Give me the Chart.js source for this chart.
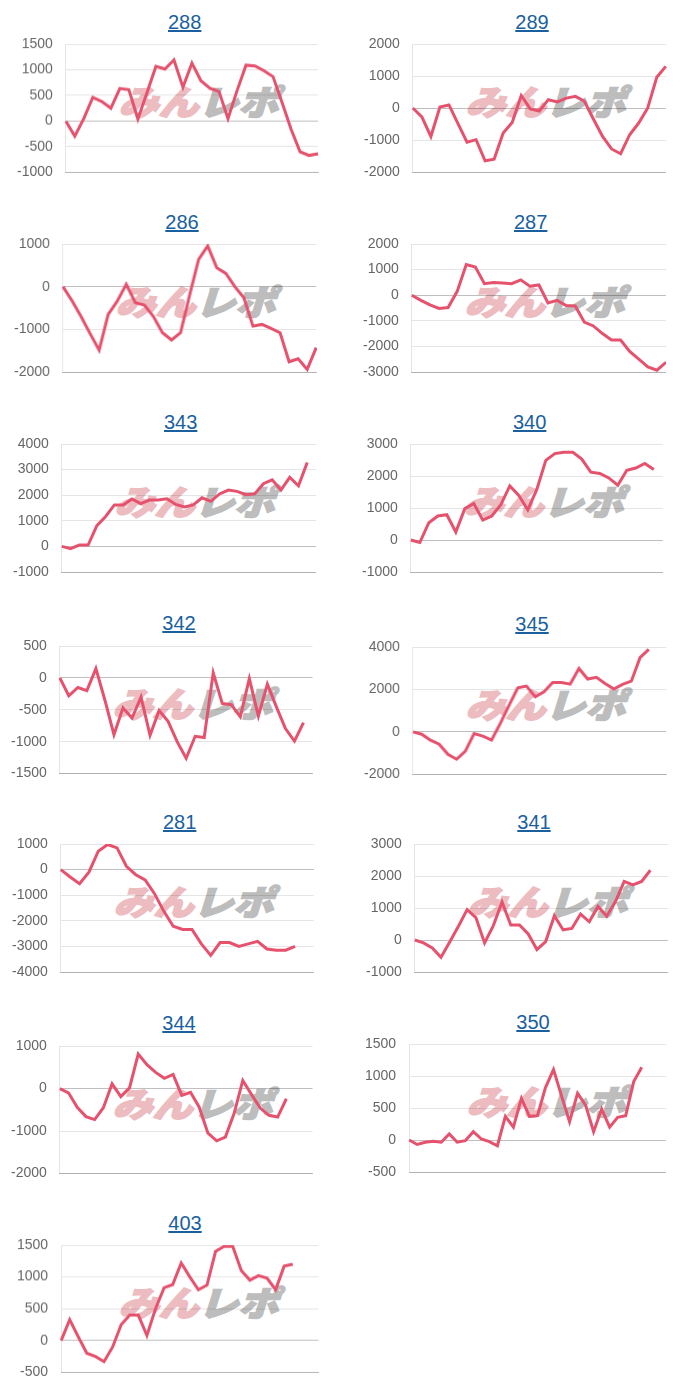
<!DOCTYPE html>
<html>
<head>
<meta charset="utf-8">
<script src="https://cdn.jsdelivr.net/npm/chart.js@4"></script>
<style>
  html,body{margin:0;padding:0;background:#fff;}
  #wrap{position:relative;width:700px;height:1400px;overflow:hidden;}
  .cell{position:absolute;width:350px;height:200px;}
  .ttl{position:absolute;width:200px;text-align:center;font:20px "Liberation Sans",Arial,sans-serif;line-height:24px;}
  .ttl a{color:#1a5f9e;text-decoration:underline;}
  .wm{position:absolute;font:900 38px "Noto Sans CJK JP",sans-serif;transform-origin:0 50%;transform:scale(1.05,0.9) skewX(-15deg);white-space:nowrap;line-height:40px;-webkit-text-stroke:2px;}
  .wm .p{color:#ecbcc0;-webkit-text-stroke-color:#ecbcc0;}
  .wm .g{color:#bdbdbd;-webkit-text-stroke-color:#bdbdbd;}
  .box{position:absolute;}
</style>
</head>
<body>
<div id="wrap"></div>
<script>
const days = ['1','2','3','4','5','6','7','8','9','10','11','12','13','14','15','16','17','18','19','20','21','22','23','24','25','26','27','28','29','30','31','32','33'];
const titles = ['288','289','286','287','343','340','342','345','281','341','344','350','403'];
const nLabels = [29,29,29,29,30,29,29,30,28,30,30,33,31];

const s288 = [0,-295,50,460,380,250,635,610,40,550,1065,1015,1190,660,1130,785,640,575,50,590,1090,1075,980,865,360,-160,-600,-670,-640];
const s289 = [0,-280,-890,30,95,-490,-1070,-990,-1650,-1600,-780,-450,390,-30,-95,260,190,310,365,210,-350,-890,-1280,-1430,-835,-470,0,960,1300];
const s286 = [0,-330,-700,-1100,-1490,-650,-340,55,-375,-430,-700,-1080,-1250,-1080,-200,640,955,445,310,0,-260,-925,-885,-980,-1080,-1760,-1690,-1940,-1430];
const s287 = [0,-200,-380,-520,-480,150,1200,1100,450,500,480,450,600,350,400,-300,-200,-400,-420,-1050,-1200,-1500,-1750,-1750,-2200,-2500,-2800,-2930,-2620];
const s343 = [0,-90,50,50,810,1170,1620,1620,1850,1670,1810,1810,1860,1640,1540,1620,1900,1760,2050,2200,2150,2020,2050,2450,2600,2200,2700,2370,3280];
const s340 = [0,-80,540,750,790,250,980,1140,620,750,1100,1690,1390,940,1580,2490,2700,2740,2740,2530,2120,2080,1940,1710,2180,2250,2390,2200];
const s342 = [0,-280,-150,-200,145,-350,-890,-470,-630,-300,-900,-510,-680,-1000,-1260,-915,-935,80,-400,-420,-610,-10,-600,-100,-455,-795,-990,-700];
const s345 = [0,-110,-390,-580,-1055,-1290,-910,-80,-200,-390,400,1250,2080,2160,1650,1890,2330,2330,2250,2990,2490,2570,2280,2020,2240,2390,3500,3890];
const s281 = [0,-290,-550,-100,720,980,850,130,-200,-400,-940,-1630,-2210,-2340,-2340,-2900,-3350,-2850,-2850,-3000,-2900,-2800,-3100,-3150,-3150,-3000];
const s341 = [0,-90,-250,-540,-60,430,950,700,-90,450,1190,470,470,190,-300,-50,760,320,360,810,570,1050,740,1200,1830,1720,1830,2180];
const s344 = [0,-100,-440,-660,-730,-450,110,-190,15,810,560,380,240,330,-160,-90,-440,-1050,-1230,-1140,-590,190,-140,-460,-630,-670,-240];
const s350 = [0,-70,-35,-20,-35,95,-35,-10,130,15,-25,-90,370,200,650,370,380,820,1100,690,285,730,545,130,485,200,355,380,915,1135];
const s403 = [0,330,60,-200,-250,-330,-100,250,400,400,80,500,830,880,1220,1000,800,870,1400,1480,1480,1100,950,1020,980,800,1170,1200];

const series = [s288,s289,s286,s287,s343,s340,s342,s345,s281,s341,s344,s350,s403];
const yMin  = [-1000,-2000,-2000,-3000,-1000,-1000,-1500,-2000,-4000,-1000,-2000,-500,-500];
const yMax  = [1500,2000,1000,2000,4000,3000,500,4000,1000,3000,1000,1500,1500];
const yStep = [500,1000,1000,1000,1000,1000,500,2000,1000,1000,1000,500,500];

// layout (cell-relative pixel placement of each chart box)
const boxL = [16.7,14,14,12.7,12.7,11.7,11,14,11.7,16,11,15,17];
const boxR = [319.3,317.3,316.7,315.7,315.7,314,314,316.7,315,319.3,314,317.3,320];
const gTop = [44.3,44.3,44.3,44.3,44.3,44.3,45.7,46.7,44.3,44.3,45.7,44.3,45];
const gBot = [171.7,172.3,172.3,172.3,172.3,172.3,173.3,174,172.3,172.3,173.3,172.3,171.5];
const PAD = 12;
const TICK_FONT = '14px "Liberation Sans", Arial, sans-serif';

const wrap = document.getElementById('wrap');
titles.forEach((t,i)=>{
  const col=i%2,row=Math.floor(i/2);
  const cell=document.createElement('div');
  cell.className='cell';
  cell.style.left=(col*350)+'px';
  cell.style.top=(row*200)+'px';
  cell.innerHTML='<div class="ttl"><a href="#">'+t+'</a></div>'+
    '<div class="wm"><span class="p">みん</span><span class="g">レポ</span></div>'+
    '<div class="box"><canvas></canvas></div>';
  wrap.appendChild(cell);
  const ttl=cell.querySelector('.ttl');
  ttl.style.left=(boxL[i]+168-100)+'px';
  ttl.style.top=(gTop[i]-22.5-12)+'px';
  const wm=cell.querySelector('.wm');
  wm.style.left=(boxL[i]+106)+'px';
  wm.style.top=(gTop[i]+37)+'px';
  const box=cell.querySelector('.box');
  box.style.left=boxL[i]+'px';
  box.style.top=(gTop[i]-PAD)+'px';
  box.style.width=(boxR[i]-boxL[i])+'px';
  box.style.height=(gBot[i]-gTop[i]+2*PAD)+'px';
  const cv=cell.querySelector('canvas');
  new Chart(cv,{
    type:'line',
    data:{labels:days.slice(0,nLabels[i]),datasets:[{data:series[i],borderColor:'#e6526d',borderWidth:3,pointRadius:0,fill:false,tension:0}]},
    options:{
      responsive:true,maintainAspectRatio:false,animation:false,
      plugins:{legend:{display:false},tooltip:{enabled:false}},
      layout:{padding:{top:PAD,bottom:PAD,left:0,right:0}},
      scales:{
        x:{ticks:{display:false},grid:{display:false,drawTicks:false},border:{display:true,color:'rgba(0,0,0,0.22)'},
           afterFit:(s)=>{s.height=0;s.paddingLeft=0;s.paddingRight=0;}},
        y:{min:yMin[i],max:yMax[i],
           ticks:{stepSize:yStep[i],color:'#666',padding:13,font:{size:14,family:'"Liberation Sans", Arial, sans-serif'},callback:(v)=>String(v)},
           grid:{drawTicks:false,color:(c)=>c.tick&&c.tick.value===0?'rgba(0,0,0,0.25)':'rgba(0,0,0,0.1)'},
           border:{color:'rgba(0,0,0,0.1)'},
           afterFit:(s)=>{
             const c=s.ctx; c.save(); c.font=TICK_FONT;
             let w=0; s.ticks.forEach(tk=>{w=Math.max(w,c.measureText(String(tk.label)).width);});
             c.restore();
             s.width=w+13; s.paddingTop=0; s.paddingBottom=0;
           }}
      }
    }
  });
});
</script>
</body>
</html>
